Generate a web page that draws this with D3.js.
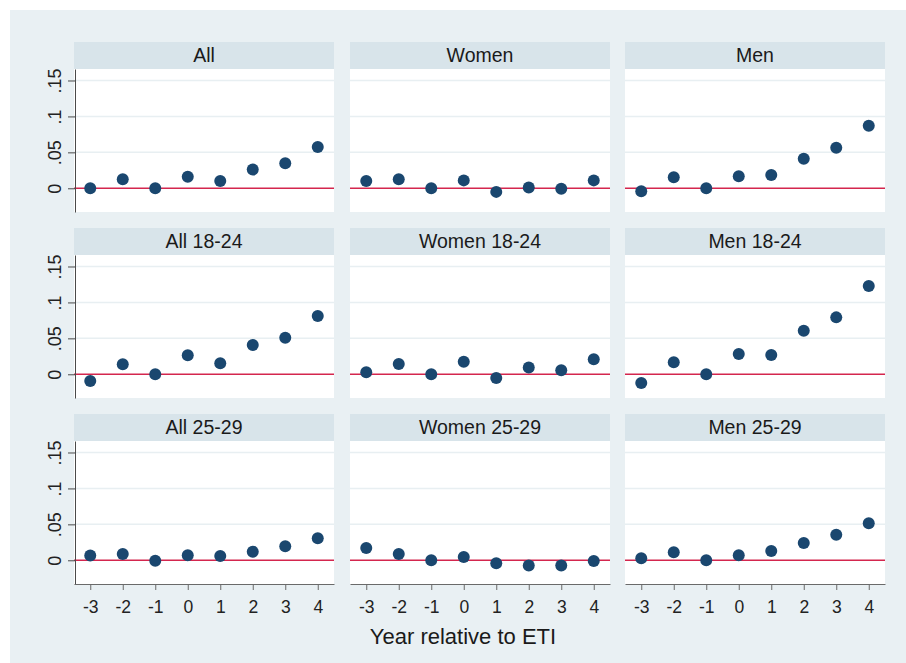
<!DOCTYPE html>
<html>
<head>
<meta charset="utf-8">
<script src="https://cdn.jsdelivr.net/npm/d3@7"></script>
<style>
    body { margin: 0; background: #ffffff; }
    svg { display: block; font-family: "Liberation Sans", Arial, sans-serif; }
</style>
</head>
<body>
<svg width="906" height="663"></svg>
<script>
// event years on the x axis
let years = [-3, -2, -1, 0, 1, 2, 3, 4];

let yTicks = [0, 0.05, 0.1, 0.15];
let yTickLabels = ["0", ".05", ".1", ".15"];

let panelTitles = ["All", "Women", "Men",
    "All 18-24", "Women 18-24", "Men 18-24",
    "All 25-29", "Women 25-29", "Men 25-29"];

// estimates
let all = [0.000, 0.0125, 0.000, 0.016, 0.010, 0.026, 0.035, 0.0575];
let women = [0.010, 0.0125, 0.000, 0.011, -0.005, 0.001, -0.0005, 0.011];
let men = [-0.004, 0.0153, 0.000, 0.0167, 0.0185, 0.041, 0.0565, 0.087];

let all1824 = [-0.0093, 0.0139, 0.000, 0.0264, 0.0153, 0.0407, 0.0509, 0.081];
let women1824 = [0.0028, 0.0144, 0.000, 0.0176, -0.0051, 0.0093, 0.0056, 0.0208];
let men1824 = [-0.012, 0.0167, 0.000, 0.0282, 0.0269, 0.0606, 0.0792, 0.1227];

let all2529 = [0.0065, 0.0088, -0.0005, 0.0069, 0.006, 0.012, 0.0194, 0.0306];
let women2529 = [0.0171, 0.0088, 0.000, 0.0046, -0.0042, -0.0074, -0.0074, -0.001];
let men2529 = [0.0028, 0.0111, 0.000, 0.0069, 0.013, 0.024, 0.0356, 0.0514];

let panelValues = [all, women, men, all1824, women1824, men1824, all2529, women2529, men2529];

let svg = d3.select("svg");

// outer graph region
svg.append("rect")
    .attr("x", 10).attr("y", 10)
    .attr("width", 896).attr("height", 653)
    .attr("fill", "#e9f0f3");

let colX = [74, 350, 625],
    rowY = [42, 228, 414],
    panelW = 260,
    stripH = 27,
    plotH = 143;

panelValues.forEach(function (vals, i) {
    let col = i % 3, row = Math.floor(i / 3);
    let x0 = colX[col], top = rowY[row] + stripH;

    let x = d3.scaleLinear().domain([-3.5, 4.5]).range([x0, x0 + panelW]);
    let y = d3.scaleLinear().domain([-0.033, 0.166]).range([top + plotH, top]);

    // title strip
    svg.append("rect")
        .attr("x", x0).attr("y", rowY[row])
        .attr("width", panelW).attr("height", stripH)
        .attr("fill", "#d8e4ea");
    svg.append("text")
        .attr("x", x0 + panelW / 2)
        .attr("y", rowY[row] + 20)
        .attr("text-anchor", "middle")
        .attr("font-size", "19.5px")
        .attr("fill", "#1a1a1a")
        .text(panelTitles[i]);

    // plot area
    svg.append("rect")
        .attr("x", x0).attr("y", top)
        .attr("width", panelW).attr("height", plotH)
        .attr("fill", "#ffffff");

    let g = svg.append("g");

    g.selectAll(".grid")
        .data(yTicks.slice(1))
        .enter().append("line")
        .attr("class", "grid")
        .attr("x1", x0).attr("x2", x0 + panelW)
        .attr("y1", function (d) { return y(d); })
        .attr("y2", function (d) { return y(d); })
        .attr("stroke", "#e8eff2")
        .attr("stroke-width", 1.5);

    g.append("line")
        .attr("x1", x0).attr("x2", x0 + panelW)
        .attr("y1", y(0)).attr("y2", y(0))
        .attr("stroke", "#d4264e")
        .attr("stroke-width", 1.6);

    g.selectAll(".dot")
        .data(vals)
        .enter().append("circle")
        .attr("class", "dot")
        .attr("cx", function (d, j) { return x(years[j]); })
        .attr("cy", function (d) { return y(d); })
        .attr("r", 6)
        .attr("fill", "#1a476f");

    if (col === 0) {
        let ya = svg.append("g")
            .attr("transform", "translate(" + (x0 + 1) + ",0)")
            .call(d3.axisLeft(y).tickValues(yTicks)
                .tickFormat(function (d, k) { return yTickLabels[k]; })
                .tickSize(7).tickSizeOuter(0));
        ya.select(".domain").attr("stroke", "#4a4a4a");
        ya.selectAll(".tick line").attr("stroke", "#4a4a4a");
        ya.selectAll(".tick text")
            .attr("transform", "rotate(-90)")
            .attr("x", 0).attr("y", -14).attr("dy", 0)
            .attr("text-anchor", "middle")
            .attr("font-size", "18px")
            .attr("fill", "#222");
    }

    if (row === 2) {
        let xa = svg.append("g")
            .attr("transform", "translate(0," + (top + plotH) + ")")
            .call(d3.axisBottom(x).tickValues(years)
                .tickFormat(d3.format("d"))
                .tickSize(6).tickPadding(11).tickSizeOuter(0));
        xa.select(".domain").attr("stroke", "#6a6a6a");
        xa.selectAll(".tick line").attr("stroke", "#6a6a6a");
        xa.selectAll(".tick text")
            .attr("font-size", "17.5px")
            .attr("fill", "#222")
            .text(function (d) { return d < 0 ? "-" + Math.abs(d) : d; });
    }
});

svg.append("text")
    .attr("x", 463)
    .attr("y", 644)
    .attr("text-anchor", "middle")
    .attr("font-size", "22px")
    .attr("fill", "#1a1a1a")
    .text("Year relative to ETI");
</script>
</body>
</html>
